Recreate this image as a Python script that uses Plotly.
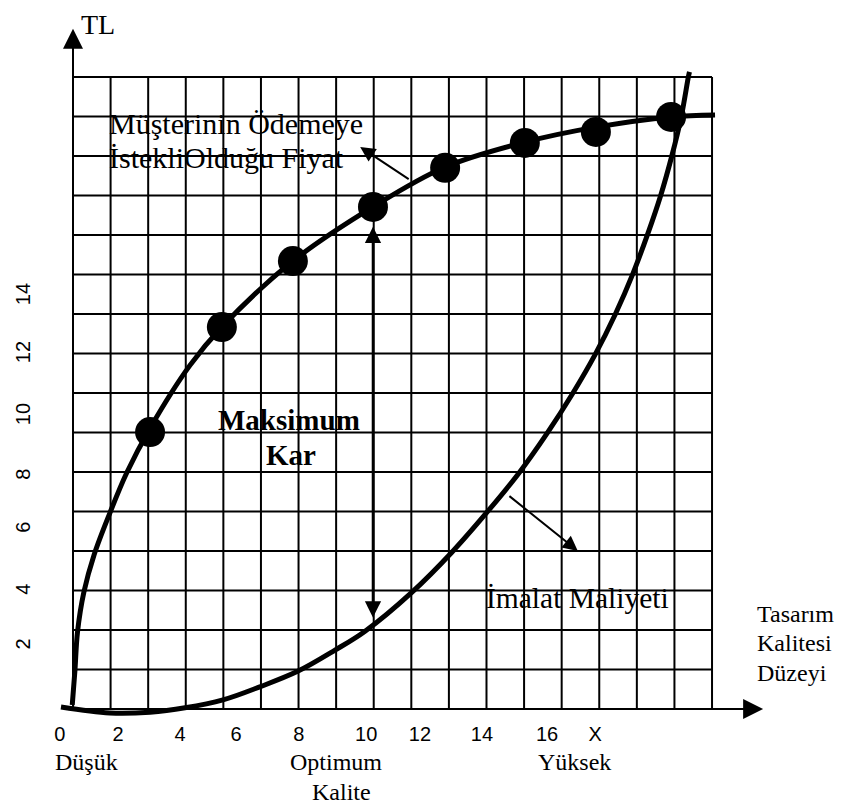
import plotly.graph_objects as go

# page body adds an 8px margin, so the figure is drawn 8px in from the corner
OFF = 8
W, H = 845 - OFF, 805 - OFF

# ---------------- data (grid units: 17 columns x 16 rows) ----------------
n_cols = 17
n_rows = 16

price_curve_x = [-0.02, 0.05, 0.12, 0.29, 0.56, 0.98, 1.43, 2.05, 3.11, 3.96, 5.85, 7.98,
                 9.90, 12.02, 13.91, 15.91, 17.08]
price_curve_y = [0.10, 0.96, 1.95, 2.96, 3.90, 4.96, 5.98, 7.11, 8.70, 9.67, 11.34, 12.71,
                 13.72, 14.35, 14.73, 14.99, 15.04]

price_marker_x = [2.05, 3.96, 5.85, 7.98, 9.90, 12.02, 13.91, 15.91]
price_marker_y = [7.01, 9.67, 11.34, 12.71, 13.70, 14.33, 14.61, 14.99]

cost_curve_x = [-0.32, 0.98, 2.05, 2.98, 3.99, 4.97, 5.99, 6.97, 7.77, 9.02, 10.08, 11.02,
                11.86, 12.62, 13.30, 13.90, 14.43, 14.89, 15.29, 15.63, 15.93, 16.18, 16.37, 16.40]
cost_curve_y = [0.05, -0.10, -0.08, 0.03, 0.23, 0.56, 0.96, 1.49, 1.97, 2.96, 3.97, 4.99,
                5.97, 6.99, 8.00, 8.99, 10.00, 11.01, 12.03, 12.99, 14.00, 14.99, 16.00, 16.13]

x_tick_labels = ["0", "2", "4", "6", "8", "10", "12", "14", "16", "X"]
x_tick_pos = [-0.35, 1.20, 2.85, 4.34, 6.01, 7.80, 9.23, 10.88, 12.61, 13.89]

y_tick_labels = ["2", "4", "6", "8", "10", "12", "14"]
y_tick_pos = [1.57, 2.96, 4.53, 5.87, 7.39, 8.96, 10.43]

# ---------------- helpers (reference pixel -> paper fraction) ----------------
def px(x):
    return (x - OFF) / W

def py(y):
    return 1 - (y - OFF) / H

UX, UY = 37.59, 39.5          # pixels per grid unit
X0 = -(73 - OFF) / UX
Y1 = (709 - OFF) / UY
X_RANGE = [X0, X0 + W / UX]
Y_RANGE = [Y1 - H / UY, Y1]

SERIF = "Liberation Serif"
SANS = "Liberation Sans"

fig = go.Figure()

# grid
shapes = []
for i in range(n_cols + 1):
    shapes.append(dict(type="line", xref="x", yref="y", x0=i, x1=i, y0=0, y1=n_rows,
                       line=dict(color="black", width=2), layer="below"))
for j in range(n_rows + 1):
    shapes.append(dict(type="line", xref="x", yref="y", x0=0, x1=n_cols, y0=j, y1=j,
                       line=dict(color="black", width=2), layer="below"))

# curves
fig.add_trace(go.Scatter(x=price_curve_x, y=price_curve_y, mode="lines",
                         line=dict(color="black", width=5, shape="spline", smoothing=1.0),
                         hoverinfo="skip"))
fig.add_trace(go.Scatter(x=cost_curve_x, y=cost_curve_y, mode="lines",
                         line=dict(color="black", width=5, shape="spline", smoothing=1.0),
                         hoverinfo="skip"))
fig.add_trace(go.Scatter(x=price_marker_x, y=price_marker_y, mode="markers",
                         marker=dict(color="black", size=30, symbol="circle"),
                         hoverinfo="skip"))

annotations = []

def arrow(x, y, ax, ay, width=2, size=1.3, both=False):
    d = dict(x=x, y=y, ax=ax, ay=ay, xref="x", yref="y", axref="x", ayref="y",
             text="", showarrow=True, arrowhead=2, arrowsize=size, arrowwidth=width,
             arrowcolor="black")
    if both:
        d.update(arrowside="end+start", startarrowhead=2, startarrowsize=size)
    annotations.append(d)

# axes arrows
arrow(0, 17.22, 0, 0, width=2, size=2.0)
arrow(18.36, 0, 0, 0, width=2, size=2.0)
# maximum profit double arrow
arrow(7.98, 12.21, 7.98, 2.28, width=2.5, size=1.3, both=True)
# pointer arrows
arrow(7.64, 14.23, 8.97, 13.39, width=2, size=1.5)
arrow(13.43, 4.0, 11.57, 5.42, width=2, size=1.5)

def label(text, x, y, size, family=SERIF, xanchor="left", bold=False, yanchor="middle"):
    if bold:
        text = "<b>" + text + "</b>"
    annotations.append(dict(x=px(x), y=py(y), xref="paper", yref="paper", text=text,
                            showarrow=False, xanchor=xanchor, yanchor=yanchor,
                            borderpad=0,
                            font=dict(family=family, size=size, color="black")))

label("TL", 80, 8, 28, yanchor="top")
label("Müşterinin Ödemeye", 108, 123, 30)
label("İstekliOlduğu Fiyat", 108, 158, 30)
label("Maksimum", 289, 420, 29, xanchor="center", bold=True)
label("Kar", 291, 455, 29, xanchor="center", bold=True)
label("İmalat Maliyeti", 485, 598, 29.5)
label("Tasarım", 756, 614, 24)
label("Kalitesi", 756, 643, 24)
label("Düzeyi", 756, 673, 24)
label("Düşük", 54, 762, 24)
label("Optimum", 289, 762, 24)
label("Kalite", 341, 792, 24, xanchor="center")
label("Yüksek", 574, 762, 24, xanchor="center")

fig.update_layout(
    width=W, height=H,
    margin=dict(l=0, r=0, t=0, b=0),
    paper_bgcolor="white", plot_bgcolor="white",
    showlegend=False,
    shapes=shapes,
    annotations=annotations,
    xaxis=dict(range=X_RANGE, showgrid=False, zeroline=False, showline=False,
               tickmode="array", tickvals=x_tick_pos, ticktext=x_tick_labels,
               ticks="", anchor="free", position=py(720), side="bottom",
               tickfont=dict(family=SANS, size=20, color="black"), fixedrange=True),
    yaxis=dict(range=Y_RANGE, showgrid=False, zeroline=False, showline=False,
               tickmode="array", tickvals=y_tick_pos, ticktext=y_tick_labels,
               ticks="", anchor="free", position=px(34), side="left", tickangle=-90,
               tickfont=dict(family=SANS, size=20, color="black"), fixedrange=True),
)

fig.write_html("out.html")
